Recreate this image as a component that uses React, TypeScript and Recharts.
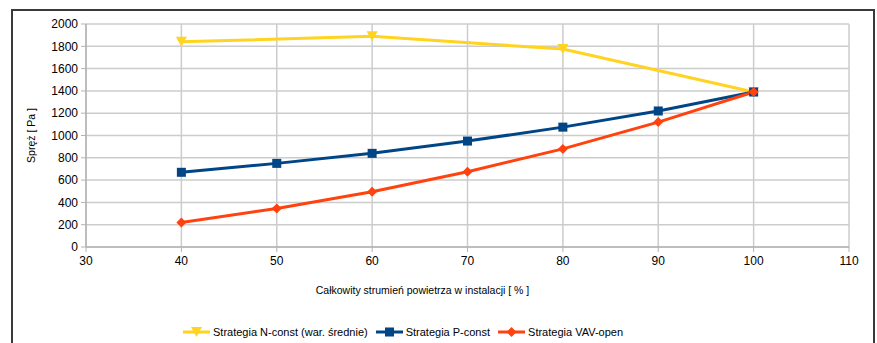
import React from "react";
import {
  LineChart,
  Line,
  XAxis,
  YAxis,
  CartesianGrid,
  Legend,
} from "recharts";

// air flow share [%] and pressure [Pa] for each control strategy
const flowPct = [40, 50, 60, 70, 80, 90, 100];
const nConst = [1840, null, 1890, null, 1775, null, 1390];
const pConst = [670, 750, 840, 950, 1075, 1220, 1390];
const vavOpen = [220, 345, 495, 675, 880, 1120, 1390];

const xTicks = [30, 40, 50, 60, 70, 80, 90, 100, 110];
const yTicks = [0, 200, 400, 600, 800, 1000, 1200, 1400, 1600, 1800, 2000];

const data = flowPct.map((x, i) => ({
  x,
  nConst: nConst[i],
  pConst: pConst[i],
  vavOpen: vavOpen[i],
}));

const YELLOW = "#ffd320";
const BLUE = "#004586";
const ORANGE = "#ff420e";
const FONT = "'Liberation Sans', Arial, sans-serif";

const series = [
  { key: "nConst", name: "Strategia N-const (war. średnie)", color: YELLOW, shape: "triangle" },
  { key: "pConst", name: "Strategia P-const", color: BLUE, shape: "square" },
  { key: "vavOpen", name: "Strategia VAV-open", color: ORANGE, shape: "diamond" },
];

const Marker = ({ cx, cy, shape, color }: any) => {
  if (shape === "triangle") {
    return <path d={`M${cx - 5.5},${cy - 5} L${cx + 5.5},${cy - 5} L${cx},${cy + 5} Z`} fill={color} />;
  }
  if (shape === "square") {
    return <rect x={cx - 4.5} y={cy - 4.5} width={9} height={9} fill={color} />;
  }
  return <path d={`M${cx},${cy - 5} L${cx + 5},${cy} L${cx},${cy + 5} L${cx - 5},${cy} Z`} fill={color} />;
};

const makeDot = (shape: string, color: string) => (props: any) => {
  const { cx, cy, value, index } = props;
  if (value == null || cx == null || cy == null) return <g key={index} />;
  return (
    <g key={index}>
      <Marker cx={cx} cy={cy} shape={shape} color={color} />
    </g>
  );
};

const LegendContent = () => (
  <div
    style={{
      display: "flex",
      paddingLeft: 183,
      paddingTop: 28,
      fontFamily: FONT,
      fontSize: 11,
      color: "#000",
      lineHeight: "14px",
    }}
  >
    {series.map((s) => (
      <div key={s.key} style={{ display: "flex", alignItems: "center", marginRight: 8 }}>
        <svg width={27} height={12} style={{ marginRight: 3 }}>
          <line x1={0} y1={6} x2={27} y2={6} stroke={s.color} strokeWidth={3} />
          <Marker cx={13.5} cy={6} shape={s.shape} color={s.color} />
        </svg>
        <span>{s.name}</span>
      </div>
    ))}
  </div>
);

export default function App() {
  return (
    <div
      style={{
        position: "absolute",
        left: 0,
        top: 0,
        width: 877,
        height: 343,
        background: "#fff",
        overflow: "hidden",
      }}
    >
      <div
        style={{
          position: "absolute",
          left: 11,
          top: 9,
          width: 860,
          height: 360,
          border: "2px solid #3a3a3a",
        }}
      />
      <div style={{ position: "absolute", left: 0, top: 0 }}>
        <LineChart
          width={877}
          height={343}
          data={data}
          margin={{ top: 24, right: 28, left: 0, bottom: 0 }}
        >
          <CartesianGrid stroke="#cccccc" strokeWidth={1.5} />
          <XAxis
            dataKey="x"
            type="number"
            domain={[30, 110]}
            ticks={xTicks}
            interval={0}
            height={50}
            axisLine={{ stroke: "#b3b3b3", strokeWidth: 1.5 }}
            tickLine={{ stroke: "#b3b3b3" }}
            tickSize={5}
            tickMargin={4}
            tick={{ fontSize: 12, fill: "#000", fontFamily: FONT }}
            label={{
              value: "Całkowity strumień powietrza w instalacji [ % ]",
              position: "insideBottom",
              offset: 3,
              dx: -45,
              style: { fontSize: 10.5, fill: "#000", fontFamily: FONT },
            }}
          />
          <YAxis
            type="number"
            domain={[0, 2000]}
            ticks={yTicks}
            interval={0}
            width={86}
            axisLine={{ stroke: "#b3b3b3", strokeWidth: 1.5 }}
            tickLine={{ stroke: "#b3b3b3" }}
            tickSize={5}
            tickMargin={3}
            tick={{ fontSize: 12, fill: "#000", fontFamily: FONT }}
            label={{
              value: "Spręż [ Pa ]",
              angle: -90,
              position: "center",
              dx: -12,
              style: { fontSize: 10.5, fill: "#000", fontFamily: FONT, textAnchor: "middle" },
            }}
          />
          <Legend verticalAlign="bottom" height={46} content={<LegendContent />} />
          {series.map((s) => (
            <Line
              key={s.key}
              type="linear"
              dataKey={s.key}
              name={s.name}
              stroke={s.color}
              strokeWidth={3}
              connectNulls
              dot={makeDot(s.shape, s.color)}
              activeDot={false}
              isAnimationActive={false}
            />
          ))}
        </LineChart>
      </div>
    </div>
  );
}
